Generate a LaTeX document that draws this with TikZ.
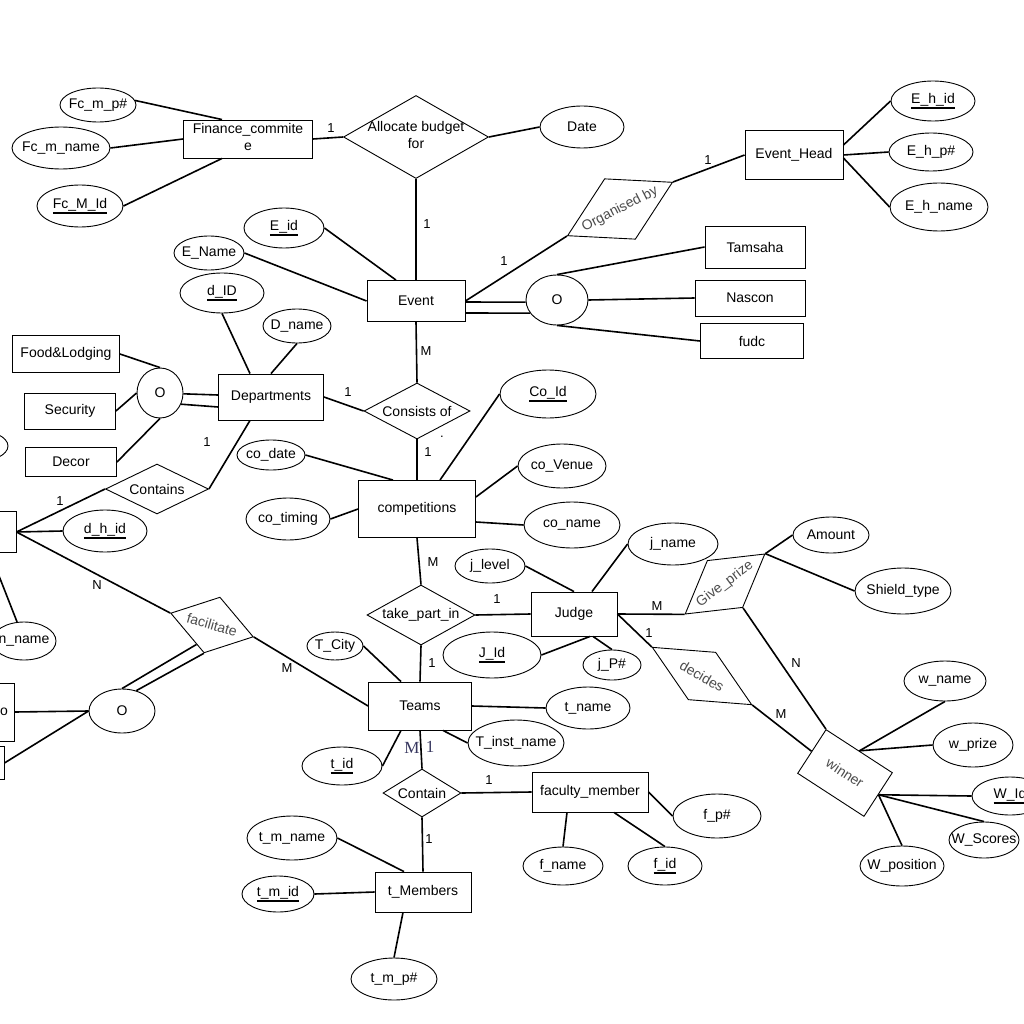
\documentclass[tikz,border=0pt]{standalone}
\usepackage{fontspec}
\setmainfont{Liberation Sans}
\newfontfamily\serifM{Liberation Serif}
\usetikzlibrary{shapes.geometric,calc}
\newcommand\zw[1]{\makebox[0pt]{#1}}
\newcommand\ulx[1]{\setbox0\hbox{#1}\makebox[0pt]{\rlap{\rule[-5pt]{\wd0}{1.7pt}}\box0}}
\newcommand\twol[2]{\makebox[0pt]{\begin{tabular}{@{}c@{}}#1\\#2\end{tabular}}}
\tikzset{
  shp/.style={draw, line width=0.9pt, inner sep=0pt, font=\fontsize{14}{17}\selectfont},
  ent/.style={shp, rectangle},
  att/.style={shp, ellipse},
  rel/.style={shp, diamond},
  rot/.style={text=black!70},
  con/.style={line width=1.6pt},
  card/.style={font=\fontsize{13}{15}\selectfont, inner sep=0pt},
  sercard/.style={font=\serifM\fontsize{17}{19}\selectfont, inner sep=0pt, text={rgb,255:red,55;green,55;blue,95}},
}
\begin{document}
\begin{tikzpicture}[x=1pt,y=-1pt]
\useasboundingbox (0,0) rectangle (1024,1024);
\fill[white] (0,0) rectangle (1024,1024);
\clip (0,0) rectangle (1024,1024);
% entities
\node[ent, minimum width=129, minimum height=38] (finance) at (248,139) {\twol{Finance\_commite}{e}};
\node[ent, minimum width=98, minimum height=49] (ehead) at (794,155) {\zw{Event\_Head}};
\node[ent, minimum width=98, minimum height=41] (event) at (416,301) {\zw{Event}};
\node[ent, minimum width=100, minimum height=42] (tamsaha) at (755,247) {\zw{Tamsaha}};
\node[ent, minimum width=110, minimum height=36] (nascon) at (750,298) {\zw{Nascon}};
\node[ent, minimum width=103, minimum height=35] (fudc) at (752,341) {\zw{fudc}};
\node[ent, minimum width=107, minimum height=37] (food) at (66,354) {\zw{Food\&Lodging}};
\node[ent, minimum width=91, minimum height=36] (security) at (70,411) {\zw{Security}};
\node[ent, minimum width=91, minimum height=29] (decor) at (71,462) {\zw{Decor}};
\node[ent, minimum width=105, minimum height=46] (dept) at (271,397) {\zw{Departments}};
\node[ent, minimum width=117, minimum height=57] (comp) at (417,509) {\zw{competitions}};
\node[ent, minimum width=86, minimum height=44] (judge) at (574,614) {\zw{Judge}};
\node[ent, minimum width=103, minimum height=48] (teams) at (420,706) {\zw{Teams}};
\node[ent, minimum width=116, minimum height=40] (faculty) at (590,792) {\zw{faculty\_member}};
\node[ent, minimum width=96, minimum height=40] (tmem) at (423,892) {\zw{t\_Members}};
\node[ent, rot, minimum width=79, minimum height=52, rotate=-33] (winner) at (845,773) {\zw{winner}};
\node[ent, minimum width=60, minimum height=41] (dhead) at (-14,532) {};
\node[ent, minimum width=88, minimum height=58] (orect) at (-30,712) {\zw{\hspace*{68pt}o}};
\node[ent, minimum width=88, minimum height=33] (blrect) at (-40,763) {};
% relationships
\node[rel, minimum width=145, minimum height=83] (alloc) at (416,137) {\twol{Allocate budget}{for}};
\node[rel, rot, minimum width=118, minimum height=68, rotate=27] (org) at (620,209) {\zw{Organised by}};
\node[rel, minimum width=106, minimum height=56] (consists) at (417,411) {\zw{Consists of}};
\node[rel, minimum width=103, minimum height=50] (contains) at (157,489) {\zw{Contains}};
\node[rel, rot, minimum width=86, minimum height=58, rotate=-16] (facil) at (212,625) {\zw{facilitate}};
\node[rel, minimum width=108, minimum height=60] (take) at (421,615) {\zw{take\_part\_in}};
\node[rel, minimum width=78, minimum height=48] (contain) at (422,793) {\zw{Contain}};
\node[rel, rot, minimum width=100, minimum height=59, rotate=37] (give) at (725,584) {\zw{Give\_prize}};
\node[rel, rot, minimum width=115, minimum height=55, rotate=-30] (decides) at (702,676) {\zw{decides}};
% attributes
\node[att, minimum width=76, minimum height=34] (fcmp) at (98,105) {\zw{Fc\_m\_p\#}};
\node[att, minimum width=98, minimum height=42] (fcmname) at (61,148) {\zw{Fc\_m\_name}};
\node[att, minimum width=86, minimum height=42] (fcmid) at (80,206) {\ulx{Fc\_M\_Id}};
\node[att, minimum width=84, minimum height=42] (date) at (582,127) {\zw{Date}};
\node[att, minimum width=84, minimum height=40] (ehid) at (933,101) {\ulx{E\_h\_id}};
\node[att, minimum width=84, minimum height=38] (ehp) at (931,152) {\zw{E\_h\_p\#}};
\node[att, minimum width=98, minimum height=48] (ehname) at (939,207) {\zw{E\_h\_name}};
\node[att, minimum width=80, minimum height=40] (eid) at (284,228) {\ulx{E\_id}};
\node[att, minimum width=70, minimum height=34] (ename) at (209,253) {\zw{E\_Name}};
\node[att, minimum width=84, minimum height=40] (did) at (222,293) {\ulx{d\_ID}};
\node[att, minimum width=68, minimum height=34] (dname) at (297,326) {\zw{D\_name}};
\node[att, minimum width=62, minimum height=50] (oev) at (557,300) {\zw{O}};
\node[att, minimum width=46, minimum height=50] (odept) at (160,393) {\zw{O}};
\node[att, minimum width=66, minimum height=44] (ofac) at (122,711) {\zw{O}};
\node[att, minimum width=96, minimum height=48] (coid) at (548,394) {\ulx{Co\_Id}};
\node[att, minimum width=68, minimum height=30] (codate) at (271,455) {\zw{co\_date}};
\node[att, minimum width=84, minimum height=42] (cotiming) at (288,519) {\zw{co\_timing}};
\node[att, minimum width=88, minimum height=44] (covenue) at (562,466) {\zw{co\_Venue}};
\node[att, minimum width=96, minimum height=46] (coname) at (572,525) {\zw{co\_name}};
\node[att, minimum width=90, minimum height=42] (jname) at (673,544) {\zw{j\_name}};
\node[att, minimum width=70, minimum height=34] (jlevel) at (490,566) {\zw{j\_level}};
\node[att, minimum width=98, minimum height=46] (jid) at (492,655) {\ulx{J\_Id}};
\node[att, minimum width=58, minimum height=30] (jp) at (612,665) {\zw{j\_P\#}};
\node[att, minimum width=76, minimum height=36] (amount) at (831,535) {\zw{Amount}};
\node[att, minimum width=96, minimum height=46] (shield) at (903,591) {\zw{Shield\_type}};
\node[att, minimum width=82, minimum height=40] (wname) at (945,681) {\zw{w\_name}};
\node[att, minimum width=80, minimum height=44] (wprize) at (973,745) {\zw{w\_prize}};
\node[att, minimum width=76, minimum height=38] (wid) at (1010,796) {\ulx{W\_Id}};
\node[att, minimum width=70, minimum height=36] (wscores) at (984,840) {\zw{W\_Scores}};
\node[att, minimum width=84, minimum height=40] (wpos) at (902,866) {\zw{W\_position}};
\node[att, minimum width=56, minimum height=28] (tcity) at (335,646) {\zw{T\_City}};
\node[att, minimum width=80, minimum height=38] (tid) at (342,766) {\ulx{t\_id}};
\node[att, minimum width=84, minimum height=42] (tname) at (588,708) {\zw{t\_name}};
\node[att, minimum width=96, minimum height=46] (tinst) at (516,743) {\zw{T\_inst\_name}};
\node[att, minimum width=90, minimum height=44] (tmname) at (292,838) {\zw{t\_m\_name}};
\node[att, minimum width=72, minimum height=36] (tmid) at (278,894) {\ulx{t\_m\_id}};
\node[att, minimum width=86, minimum height=42] (tmp) at (394,979) {\zw{t\_m\_p\#}};
\node[att, minimum width=88, minimum height=44] (fp) at (717,816) {\zw{f\_p\#}};
\node[att, minimum width=80, minimum height=38] (fname) at (563,866) {\zw{f\_name}};
\node[att, minimum width=74, minimum height=38] (fid) at (665,866) {\ulx{f\_id}};
\node[att, minimum width=84, minimum height=42] (dhid) at (105,531) {\ulx{d\_h\_id}};
\node[att, minimum width=64, minimum height=38] (nname) at (24,641) {\zw{n\_name}};
\node[att, minimum width=66, minimum height=32] (lell) at (-25,446) {};
% connectors
\draw[con] (fcmp.7) -- ($(finance.north)+(-26,0)$);
\draw[con] (fcmname.east) -- (finance.west);
\draw[con] (fcmid.east) -- ($(finance.south)+(-26,0)$);
\draw[con] (finance.east) -- (alloc.west);
\draw[con] (alloc.east) -- (date.west);
\draw[con] (alloc.south) -- (event.north);
\draw[con] (eid.east) -- ($(event.north)+(-20,0)$);
\draw[con] (ename.east) -- (event.west);
\draw[con] (event.east) -- (org.west);
\draw[con] (org.east) -- (ehead.west);
\draw[con] ($(event.east)+(0,1)$) -- (oev.184);
\draw[con] ($(event.east)+(0,12)$) -- (oev.206);
\draw[con] (oev.north) -- (tamsaha.west);
\draw[con] (oev.east) -- (nascon.west);
\draw[con] (oev.south) -- (fudc.west);
\draw[con] ($(ehead.east)+(0,-10)$) -- (ehid.west);
\draw[con] (ehead.east) -- (ehp.west);
\draw[con] ($(ehead.east)+(0,3)$) -- (ehname.west);
\draw[con] (event.south) -- (consists.north);
\draw[con] (did.south) -- ($(dept.north)+(-21,0)$);
\draw[con] (dname.south) -- (dept.north);
\draw[con] (dept.east) -- (consists.west);
\draw[con] ($(dept.west)+(0,-2)$) -- (odept.-2);
\draw[con] ($(dept.west)+(0,10)$) -- (odept.-28);
\draw[con] (odept.north) -- (food.east);
\draw[con] (odept.west) -- (security.east);
\draw[con] (odept.south) -- (decor.east);
\draw[con] ($(dept.south)+(-21,0)$) -- (contains.east);
\draw[con] (contains.west) -- (dhead.east);
\draw[con] (dhead.east) -- (dhid.west);
\draw[con] (dhead.east) -- (facil.west);
\draw[con] ($(dhead.south)+(4,0)$) -- (nname.110);
\draw[con] (facil.east) -- (teams.west);
\draw[con] ($(facil.south)!0.22!(facil.west)$) -- (ofac.north);
\draw[con] (facil.south) -- (ofac.55);
\draw[con] (ofac.west) -- (orect.east);
\draw[con] (ofac.west) -- (blrect.east);
\draw[con] (consists.south) -- (comp.north);
\draw[con] (codate.east) -- ($(comp.north)+(-24,0)$);
\draw[con] (cotiming.east) -- (comp.west);
\draw[con] (coid.west) -- ($(comp.north)+(23,0)$);
\draw[con] (covenue.west) -- ($(comp.east)+(0,-12)$);
\draw[con] (coname.west) -- ($(comp.east)+(0,13)$);
\draw[con] (comp.south) -- (take.north);
\draw[con] (take.east) -- (judge.west);
\draw[con] (take.south) -- (teams.north);
\draw[con] (jlevel.east) -- (judge.north);
\draw[con] (jname.west) -- ($(judge.north)+(18,0)$);
\draw[con] (jid.east) -- ($(judge.south)+(16,0)$);
\draw[con] (jp.north) -- ($(judge.south)+(19,0)$);
\draw[con] (judge.east) -- (give.west);
\draw[con] (judge.east) -- (decides.west);
\draw[con] (give.east) -- (amount.west);
\draw[con] (give.east) -- (shield.west);
\draw[con] (give.south) -- (winner.north west);
\draw[con] (decides.east) -- (winner.west);
\draw[con] (winner.north) -- (wname.south);
\draw[con] (winner.north) -- (wprize.west);
\draw[con] (winner.east) -- (wid.west);
\draw[con] (winner.east) -- (wscores.north);
\draw[con] (winner.east) -- (wpos.north);
\draw[con] (tcity.east) -- ($(teams.north)+(-19,0)$);
\draw[con] (tid.east) -- ($(teams.south)+(-19,0)$);
\draw[con] (teams.east) -- (tname.west);
\draw[con] (tinst.west) -- ($(teams.south)+(23,0)$);
\draw[con] (teams.south) -- (contain.north);
\draw[con] (contain.east) -- (faculty.west);
\draw[con] (contain.south) -- (tmem.north);
\draw[con] (tmname.east) -- ($(tmem.north)+(-19,0)$);
\draw[con] (tmid.east) -- (tmem.west);
\draw[con] (tmp.north) -- ($(tmem.south)+(-20,0)$);
\draw[con] ($(faculty.south)+(-23,0)$) -- (fname.north);
\draw[con] ($(faculty.south)+(24,0)$) -- (fid.north);
\draw[con] (faculty.east) -- (fp.west);
% cardinalities
\node[card] (l1) at (331,128) {1};
\node[card] (l2) at (427,224) {1};
\node[card] (l3) at (504,261) {1};
\node[card] (l4) at (708,160) {1};
\node[card] (l5) at (426,351) {M};
\node[card] (l6) at (348,392) {1};
\node[card] (l7) at (428,452) {1};
\node[card] (ldot) at (442,437) {.};
\node[card] (l8) at (207,442) {1};
\node[card] (l9) at (60,501) {1};
\node[card] (l10) at (97,585) {N};
\node[card] (l11) at (287,668) {M};
\node[card] (l12) at (433,562) {M};
\node[card] (l13) at (497,599) {1};
\node[card] (l14) at (432,663) {1};
\node[card] (l15) at (657,606) {M};
\node[card] (l16) at (649,633) {1};
\node[card] (l17) at (796,663) {N};
\node[card] (l18) at (781,714) {M};
\node[sercard] (l19) at (412,748) {M};
\node[sercard] (l20) at (430,747) {1};
\node[card] (l21) at (489,780) {1};
\node[card] (l22) at (429,839) {1};
\end{tikzpicture}
\end{document}
